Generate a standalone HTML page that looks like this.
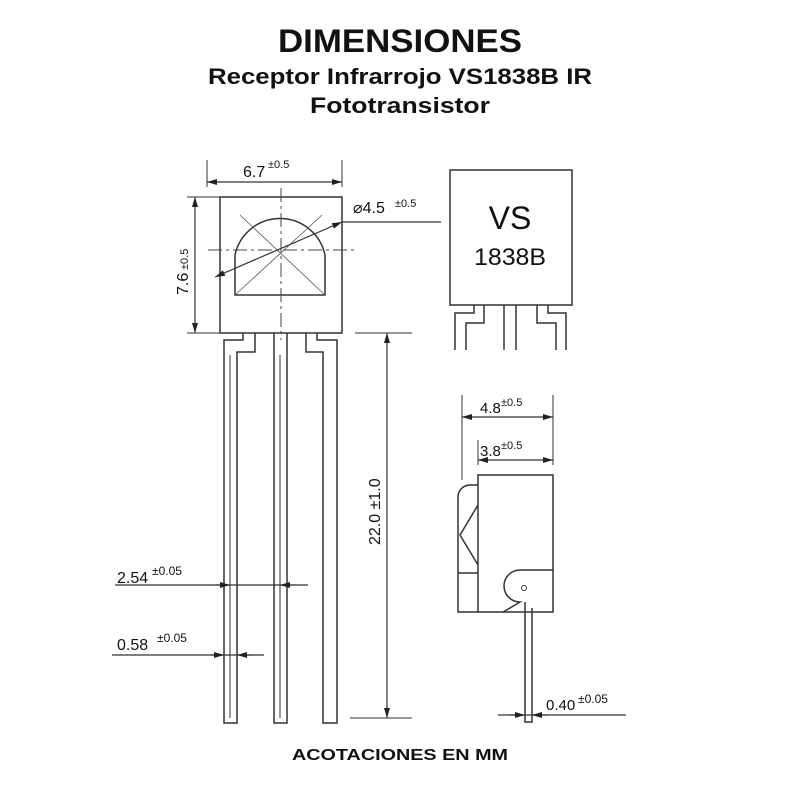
<!DOCTYPE html>
<html><head><meta charset="utf-8"><style>
html,body{margin:0;padding:0;background:#fff;}
svg{display:block;}
.t{font-family:"Liberation Sans",sans-serif;fill:#111;}
</style></head><body>
<svg width="800" height="800" viewBox="0 0 800 800" xmlns="http://www.w3.org/2000/svg">
<defs>
<marker id="a" viewBox="0 0 10 6" refX="10" refY="3" markerWidth="10" markerHeight="6" orient="auto-start-reverse" markerUnits="userSpaceOnUse"><path d="M0,0L10,3L0,6z" fill="#222"/></marker>
</defs>
<text x="278" y="52" class="t" font-weight="bold" font-size="32" textLength="244" lengthAdjust="spacingAndGlyphs">DIMENSIONES</text>
<text x="208" y="84" class="t" font-weight="bold" font-size="22" textLength="384" lengthAdjust="spacingAndGlyphs">Receptor Infrarrojo VS1838B IR</text>
<text x="310" y="113" class="t" font-weight="bold" font-size="22" textLength="180" lengthAdjust="spacingAndGlyphs">Fototransistor</text>
<text x="292" y="760" class="t" font-weight="bold" font-size="16" textLength="216" lengthAdjust="spacingAndGlyphs">ACOTACIONES EN MM</text>

<g fill="none" stroke="#333" stroke-width="1.5">
<rect x="220" y="197" width="122" height="136"/>
<path d="M235,295 V255 A46,46 0 0 1 325,255 V295 Z"/>
<g stroke-width="0.8" stroke="#555">
<line x1="235" y1="295" x2="322" y2="215"/><line x1="325" y1="295" x2="240" y2="215"/>
</g>
<g stroke-width="1" stroke="#444" stroke-dasharray="14,4,3,4">
<line x1="281" y1="188" x2="281" y2="340"/><line x1="208" y1="250" x2="355" y2="250"/>
</g>
<line x1="215" y1="277" x2="342" y2="222" stroke-width="1.2" marker-start="url(#a)" marker-end="url(#a)"/>
<line x1="342" y1="222" x2="441" y2="222" stroke-width="1.2"/>
<line x1="207" y1="160" x2="207" y2="187" stroke-width="1"/>
<line x1="342" y1="160" x2="342" y2="187" stroke-width="1"/>
<line x1="207" y1="182" x2="342" y2="182" stroke-width="1.2" marker-start="url(#a)" marker-end="url(#a)"/>
<line x1="187" y1="197" x2="220" y2="197" stroke-width="1"/>
<line x1="187" y1="333" x2="220" y2="333" stroke-width="1"/>
<line x1="195" y1="197" x2="195" y2="333" stroke-width="1.2" marker-start="url(#a)" marker-end="url(#a)"/>
<path d="M243,333 V340 H224 V723 H237 V352 H255 V333"/>
<line x1="230" y1="355" x2="230" y2="718" stroke-width="1"/>
<path d="M274,333 V723 H287 V333"/>
<line x1="280" y1="355" x2="280" y2="718" stroke-width="1"/>
<path d="M317,333 V340 H337 V723 H323 V352 H306 V333"/>
<line x1="355" y1="333" x2="412" y2="333" stroke-width="1"/>
<line x1="350" y1="718" x2="412" y2="718" stroke-width="1"/>
<line x1="387" y1="333" x2="387" y2="718" stroke-width="1.2" marker-start="url(#a)" marker-end="url(#a)"/>
<line x1="115" y1="585" x2="308" y2="585" stroke-width="1.2"/>
<line x1="215" y1="585" x2="230" y2="585" marker-end="url(#a)" stroke-width="1.2"/>
<line x1="295" y1="585" x2="280" y2="585" marker-end="url(#a)" stroke-width="1.2"/>
<line x1="112" y1="655" x2="264" y2="655" stroke-width="1.2"/>
<line x1="210" y1="655" x2="224" y2="655" marker-end="url(#a)" stroke-width="1.2"/>
<line x1="252" y1="655" x2="237" y2="655" marker-end="url(#a)" stroke-width="1.2"/>
<rect x="450" y="170" width="122" height="135"/>
<path d="M474,305 V313 H455 V350 M484,305 V323 H466 V350"/>
<path d="M504,305 V350 M516,305 V350"/>
<path d="M548,305 V313 H566 V350 M537,305 V323 H556 V350"/>
<rect x="478" y="475" width="75" height="137"/>
<path d="M478,485 H470 A12,12 0 0 0 458,497 V612 H478"/>
<path d="M478,505 L460,535 L478,565 M458,573 H478"/>
<path d="M553,570 H520 A16,16 0 0 0 520,602 L510,608 L503,612"/>
<circle cx="524" cy="588" r="2.5" stroke-width="1"/>
<path d="M525,602 V722 H532 V608"/>
<line x1="462" y1="395" x2="462" y2="480" stroke-width="1"/>
<line x1="553" y1="395" x2="553" y2="465" stroke-width="1"/>
<line x1="462" y1="417" x2="553" y2="417" stroke-width="1.2" marker-start="url(#a)" marker-end="url(#a)"/>
<line x1="478" y1="440" x2="478" y2="465" stroke-width="1"/>
<line x1="478" y1="460" x2="553" y2="460" stroke-width="1.2" marker-start="url(#a)" marker-end="url(#a)"/>
<line x1="498" y1="715" x2="626" y2="715" stroke-width="1.2"/>
<line x1="510" y1="715" x2="525" y2="715" marker-end="url(#a)" stroke-width="1.2"/>
<line x1="547" y1="715" x2="532" y2="715" marker-end="url(#a)" stroke-width="1.2"/>
</g>

<text x="243" y="177" class="t" font-size="16">6.7</text><text x="268" y="168" class="t" font-size="11">±0.5</text>
<text x="188" y="295" class="t" font-size="16" transform="rotate(-90 188 295)">7.6</text>
<text x="188" y="270" class="t" font-size="11" transform="rotate(-90 188 270)">±0.5</text>
<text x="353" y="213" class="t" font-size="16">⌀4.5</text><text x="395" y="207" class="t" font-size="11">±0.5</text>
<text x="510" y="229" text-anchor="middle" class="t" font-size="32">VS</text>
<text x="510" y="265" text-anchor="middle" class="t" font-size="24" textLength="72" lengthAdjust="spacingAndGlyphs">1838B</text>
<text x="380" y="545" class="t" font-size="16" transform="rotate(-90 380 545)">22.0 ±1.0</text>
<text x="117" y="583" class="t" font-size="16">2.54</text><text x="152" y="575" class="t" font-size="12">±0.05</text>
<text x="117" y="650" class="t" font-size="16">0.58</text><text x="157" y="642" class="t" font-size="12">±0.05</text>
<text x="480" y="413" class="t" font-size="15">4.8</text><text x="501" y="406" class="t" font-size="11">±0.5</text>
<text x="480" y="456" class="t" font-size="15">3.8</text><text x="501" y="449" class="t" font-size="11">±0.5</text>
<text x="546" y="710" class="t" font-size="15">0.40</text><text x="578" y="703" class="t" font-size="12">±0.05</text>
</svg>
</body></html>
